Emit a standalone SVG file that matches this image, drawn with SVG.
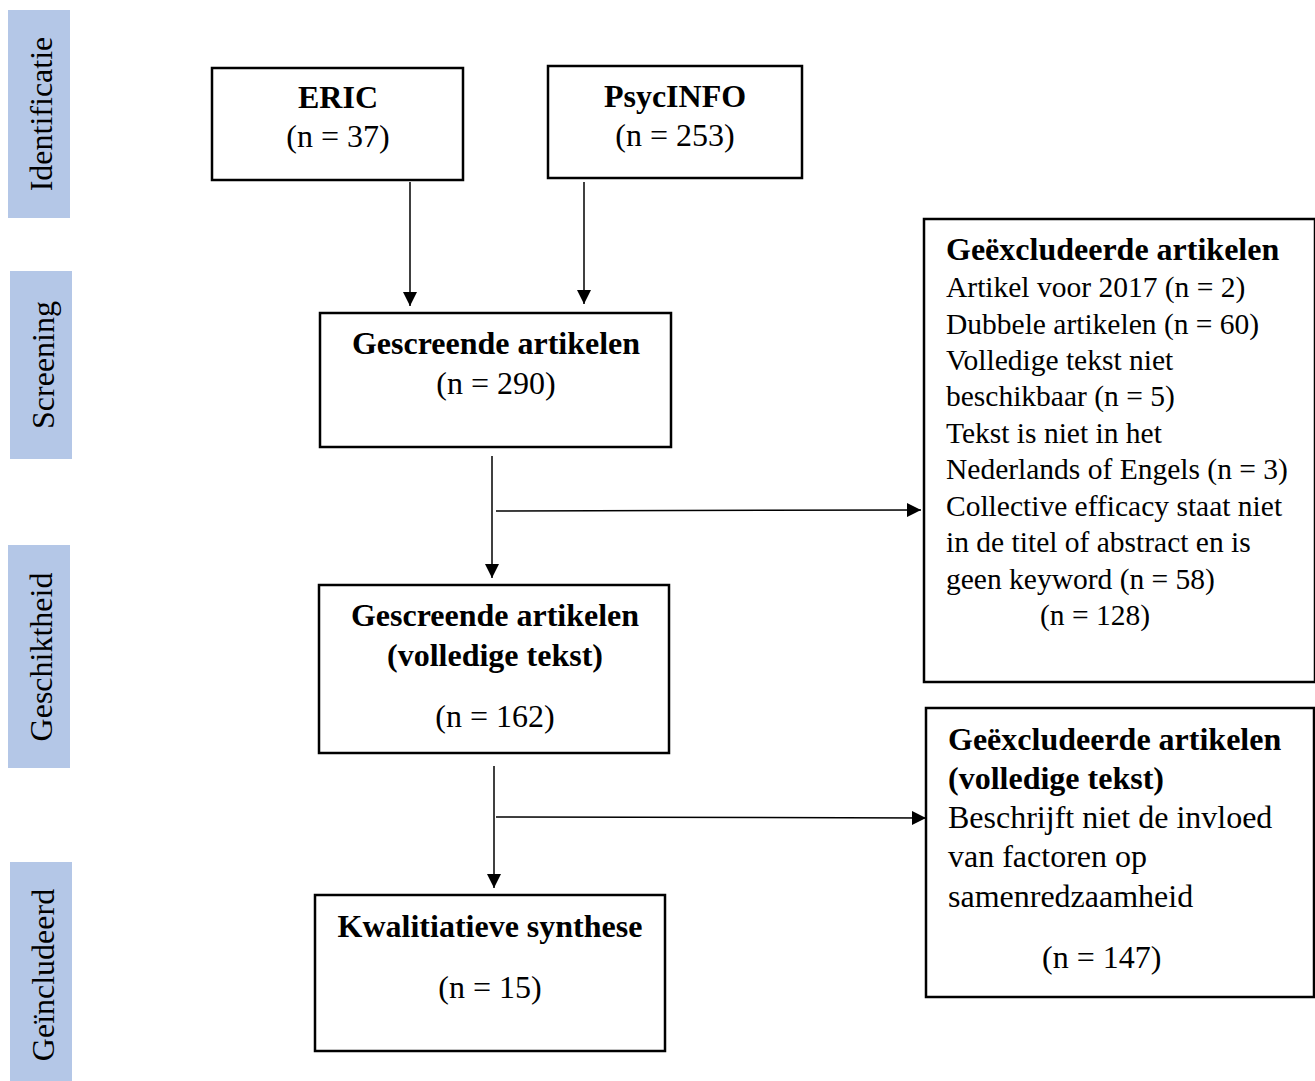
<svg xmlns="http://www.w3.org/2000/svg" width="1315" height="1081" viewBox="0 0 1315 1081">
<style>
text{font-family:"Liberation Serif","Times New Roman",serif;font-size:32px;fill:#000}
.b{font-weight:bold}
.c{text-anchor:middle}
.s{font-size:29.5px}
.box{fill:#fff;stroke:#000;stroke-width:2.5}
.side{fill:#b4c7e7}
.ln{stroke:#000;stroke-width:1.5;fill:none}
</style>
<defs>
<marker id="ah" markerWidth="14" markerHeight="14" refX="14" refY="7" orient="auto" markerUnits="userSpaceOnUse" viewBox="0 0 14 14">
<path d="M0,0 L14,7 L0,14 z" fill="#000"/>
</marker>
</defs>
<rect width="1315" height="1081" fill="#fff"/>
<g id="phases">
<g id="ph-identificatie"><rect class="side" x="8" y="10" width="62" height="208"/><text class="c" transform="translate(52,114) rotate(-90)">Identificatie</text></g>
<g id="ph-screening"><rect class="side" x="10" y="271" width="62" height="188"/><text class="c" transform="translate(54,365) rotate(-90)">Screening</text></g>
<g id="ph-geschiktheid"><rect class="side" x="8" y="545" width="62" height="223"/><text class="c" transform="translate(52,657) rotate(-90)">Geschiktheid</text></g>
<g id="ph-geincludeerd"><rect class="side" x="10" y="862" width="62" height="219"/><text class="c" transform="translate(54,975) rotate(-90)">Geïncludeerd</text></g>
</g>
<g id="connectors">
<line class="ln" x1="410" y1="182" x2="410" y2="306" marker-end="url(#ah)"/>
<line class="ln" x1="584" y1="182" x2="584" y2="304" marker-end="url(#ah)"/>
<line class="ln" x1="492" y1="456" x2="492" y2="578" marker-end="url(#ah)"/>
<line class="ln" x1="496" y1="511" x2="921" y2="510" marker-end="url(#ah)"/>
<line class="ln" x1="494" y1="766" x2="494" y2="888" marker-end="url(#ah)"/>
<line class="ln" x1="496" y1="817" x2="926" y2="818" marker-end="url(#ah)"/>
</g>
<g id="eric"><rect class="box" x="212" y="68" width="251" height="112"/><text class="b c" x="338" y="108">ERIC</text><text class="c" x="338" y="147">(n = 37)</text></g>
<g id="psycinfo"><rect class="box" x="548" y="66" width="254" height="112"/><text class="b c" x="675" y="107">PsycINFO</text><text class="c" x="675" y="146">(n = 253)</text></g>
<g id="gescreend"><rect class="box" x="320" y="313" width="351" height="134"/><text class="b c" x="496" y="354">Gescreende artikelen</text><text class="c" x="496" y="394">(n = 290)</text></g>
<g id="gescreend-vt"><rect class="box" x="319" y="585" width="350" height="168"/><text class="b c" x="495" y="626">Gescreende artikelen</text><text class="b c" x="495" y="666">(volledige tekst)</text><text class="c" x="495" y="727">(n = 162)</text></g>
<g id="synthese"><rect class="box" x="315" y="895" width="350" height="156"/><text class="b c" x="490" y="937">Kwalitiatieve synthese</text><text class="c" x="490" y="998">(n = 15)</text></g>
<g id="excl1"><rect class="box" x="924" y="219" width="391" height="463"/>
<text class="b" x="946" y="260">Geëxcludeerde artikelen</text>
<text class="s" x="946" y="297">Artikel voor 2017 (n = 2)</text>
<text class="s" x="946" y="334">Dubbele artikelen (n = 60)</text>
<text class="s" x="946" y="370">Volledige tekst niet</text>
<text class="s" x="946" y="406">beschikbaar (n = 5)</text>
<text class="s" x="946" y="443">Tekst is niet in het</text>
<text class="s" x="946" y="479">Nederlands of Engels (n = 3)</text>
<text class="s" x="946" y="516">Collective efficacy staat niet</text>
<text class="s" x="946" y="552">in de titel of abstract en is</text>
<text class="s" x="946" y="589">geen keyword (n = 58)</text>
<text class="s" x="1040" y="625">(n = 128)</text>
</g>
<g id="excl2"><rect class="box" x="926" y="708" width="388" height="289"/>
<text class="b" x="948" y="750">Geëxcludeerde artikelen</text>
<text class="b" x="948" y="789">(volledige tekst)</text>
<text x="948" y="828">Beschrijft niet de invloed</text>
<text x="948" y="867">van factoren op</text>
<text x="948" y="907">samenredzaamheid</text>
<text x="1042" y="968">(n = 147)</text>
</g>
</svg>
